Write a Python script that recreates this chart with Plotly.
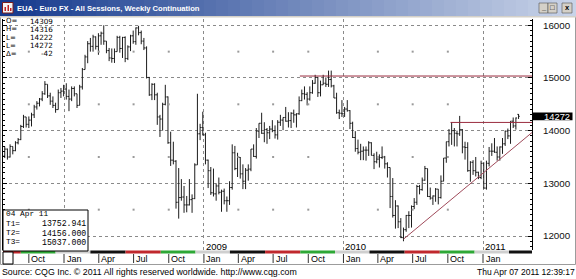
import plotly.graph_objects as go
import pandas as pd

# ---------------- data (weekly bars) ----------------
FIRST_WEEK = "2007-07-30"
N_WEEKS = 193

opens = [13520, 13650, 13500, 13700, 13620, 13770, 13830, 14080, 14260, 14120,
         14200, 14300, 14450, 14520, 14600, 14700, 14880, 14660, 14560, 14480,
         14400, 14720, 14750, 14790, 14650, 14600, 14800, 14700, 14480, 14830,
         15160, 15400, 15650, 15600, 15780, 15600, 15800, 15850, 15700, 15520,
         15380, 15370, 15500, 15770, 15560, 15770, 15370, 15590, 15800, 15690,
         15950, 15860, 15700, 15570, 15010, 14680, 14880, 14680, 14260, 14220,
         14500, 14640, 13770, 13440, 13420, 12640, 12730, 12740, 12590, 12590,
         12690, 12710, 13350, 13940, 14060, 13920, 13440, 13240, 12820, 12800,
         12950, 12830, 12850, 12670, 12670, 12920, 13580, 13280, 13490, 13180,
         13040, 13250, 13270, 13650, 13510, 13990, 14140, 13950, 14020, 13960,
         14030, 14000, 13920, 14160, 14200, 14250, 14180, 14190, 14330, 14300,
         14320, 14570, 14700, 14690, 14600, 14720, 14900, 15010, 14720, 14870,
         14900, 14880, 14970, 14850, 14620, 14340, 14330, 14320, 14410, 14380,
         14140, 13870, 13660, 13590, 13610, 13630, 13630, 13770, 13530, 13410,
         13460, 13490, 13500, 13370, 13300, 12750, 12390, 12570, 12270, 11970,
         12120, 12390, 12390, 12560, 12640, 12940, 12880, 13060, 13280, 12750,
         12720, 12760, 12890, 12730, 13040, 13480, 13790, 13940, 14000, 13950,
         13940, 14020, 13690, 13680, 13240, 13400, 13240, 13210, 13110, 13380,
         12910, 13380, 13610, 13610, 13590, 13500, 13690, 13750, 13990, 13900,
         14180, 14090, 14309]
highs = [13700, 13660, 13740, 13700, 13800, 13860, 14110, 14300, 14260, 14270,
         14340, 14490, 14560, 14620, 14750, 14940, 14880, 14720, 14650, 14530,
         14780, 14810, 14870, 14900, 14780, 14840, 14840, 14700, 14870, 15190,
         15440, 15700, 15760, 15820, 15790, 15850, 15880, 16000, 15700, 15570,
         15560, 15560, 15800, 15800, 15780, 15790, 15620, 15820, 15900, 15960,
         15990, 15900, 15760, 15600, 15020, 14900, 14900, 14720, 14300, 14530,
         14870, 14650, 13980, 13790, 13440, 13290, 13080, 12950, 12760, 13080,
         12790, 13380, 14700, 14130, 14360, 13960, 13450, 13310, 13280, 13000,
         13110, 12880, 12900, 12750, 13040, 13740, 13710, 13580, 13500, 13360,
         13290, 13360, 13650, 13740, 14050, 14140, 14340, 14160, 14050, 14090,
         14200, 14100, 14200, 14300, 14250, 14450, 14350, 14350, 14400, 14330,
         14650, 14780, 14840, 14730, 14840, 14960, 15060, 15020, 14950, 15060,
         15010, 15140, 15140, 14870, 14720, 14400, 14580, 14450, 14580, 14390,
         14170, 13990, 13830, 13750, 13700, 13700, 13800, 13780, 13570, 13600,
         13550, 13700, 13520, 13400, 13300, 13100, 12680, 12580, 12340, 12160,
         12400, 12470, 12580, 12720, 12970, 12970, 13110, 13330, 13280, 12920,
         12770, 12910, 12890, 13150, 13480, 13790, 14030, 14160, 14050, 14000,
         14280, 14030, 13790, 13780, 13420, 13440, 13500, 13220, 13430, 13400,
         13430, 13690, 13760, 13860, 13700, 13700, 13860, 14000, 14040, 14180,
         14250, 14250, 14316]
lows = [13480, 13450, 13490, 13550, 13610, 13740, 13820, 14050, 14060, 14050,
        14080, 14240, 14400, 14460, 14560, 14680, 14620, 14490, 14430, 14340,
        14400, 14620, 14650, 14590, 14370, 14560, 14650, 14430, 14480, 14780,
        15160, 15280, 15500, 15500, 15540, 15440, 15630, 15630, 15470, 15320,
        15290, 15285, 15500, 15480, 15380, 15300, 15340, 15510, 15650, 15630,
        15810, 15640, 15530, 14990, 14660, 14580, 14580, 14110, 13880, 14000,
        14480, 13750, 13330, 13360, 12520, 12330, 12670, 12440, 12450, 12580,
        12440, 12700, 13350, 13820, 13910, 13360, 12910, 12780, 12750, 12670,
        12790, 12460, 12600, 12460, 12590, 12880, 13250, 13120, 13090, 12890,
        12890, 13050, 13230, 13500, 13470, 13860, 13940, 13780, 13750, 13840,
        13970, 13850, 13830, 14090, 14010, 14170, 14060, 14050, 14150, 14060,
        14300, 14560, 14590, 14480, 14570, 14700, 14890, 14640, 14650, 14870,
        14830, 14830, 14820, 14620, 14320, 14220, 14260, 14260, 14360, 14030,
        13860, 13600, 13550, 13440, 13440, 13430, 13520, 13530, 13270, 13380,
        13300, 13460, 13280, 13110, 12530, 12350, 12140, 12150, 11960, 11900,
        12080, 12150, 12160, 12510, 12590, 12790, 12860, 13050, 12740, 12690,
        12590, 12650, 12600, 12710, 13040, 13390, 13700, 13730, 13700, 13700,
        13900, 13570, 13450, 13220, 13030, 13160, 13130, 13080, 13080, 12900,
        12880, 13320, 13520, 13580, 13430, 13430, 13560, 13710, 13840, 13750,
        14050, 14020, 14222]
closes = [13650, 13500, 13700, 13620, 13770, 13830, 14080, 14260, 14120, 14200,
          14300, 14450, 14520, 14600, 14700, 14880, 14660, 14560, 14480, 14400,
          14720, 14750, 14790, 14650, 14600, 14800, 14700, 14480, 14830, 15160,
          15400, 15650, 15600, 15780, 15600, 15800, 15850, 15700, 15520, 15380,
          15370, 15500, 15770, 15560, 15770, 15370, 15590, 15800, 15690, 15950,
          15860, 15700, 15570, 15010, 14680, 14880, 14680, 14260, 14220, 14500,
          14640, 13770, 13440, 13420, 12640, 12730, 12740, 12590, 12590, 12690,
          12710, 13350, 13940, 14060, 13920, 13440, 13240, 12820, 12800, 12950,
          12830, 12850, 12670, 12670, 12920, 13580, 13280, 13490, 13180, 13040,
          13250, 13270, 13650, 13510, 13990, 14140, 13950, 14020, 13960, 14030,
          14000, 13920, 14160, 14200, 14250, 14180, 14190, 14330, 14300, 14320,
          14570, 14700, 14690, 14600, 14720, 14900, 15010, 14720, 14870, 14900,
          14880, 14970, 14850, 14620, 14340, 14330, 14320, 14410, 14380, 14140,
          13870, 13660, 13590, 13610, 13630, 13630, 13770, 13530, 13410, 13460,
          13490, 13500, 13370, 13300, 12750, 12390, 12570, 12270, 11970, 12120,
          12390, 12390, 12560, 12640, 12940, 12880, 13060, 13280, 12750, 12720,
          12760, 12890, 12730, 13040, 13480, 13790, 13940, 14000, 13950, 13940,
          14020, 13690, 13680, 13240, 13400, 13240, 13210, 13110, 13380, 12910,
          13380, 13610, 13610, 13590, 13500, 13690, 13750, 13990, 13900, 14180,
          14090, 14240, 14272]

Y_TICKS = [12000, 13000, 14000, 15000, 16000]
Y_TICK_TEXT = ["12000", "13000", "14000", "15000", "16000"]
HALF_LEVELS = [12500, 13500, 14500, 15500]

QUARTER_DATES = ["2007-10-01", "2008-01-01", "2008-04-01", "2008-07-01", "2008-10-01",
                 "2009-01-01", "2009-04-01", "2009-07-01", "2009-10-01",
                 "2010-01-01", "2010-04-01", "2010-07-01", "2010-10-01", "2011-01-01"]
QUARTER_LABELS = ["Oct", "Jan", "Apr", "Jul", "Oct", "Jan", "Apr", "Jul", "Oct",
                  "Jan", "Apr", "Jul", "Oct", "Jan"]
YEAR_DATES = ["2009-01-01", "2010-01-01", "2011-01-01"]
YEAR_LABELS = ["2009", "2010", "2011"]

LAST_O, LAST_H, LAST_L, LAST_C, LAST_CHG = 14309, 14316, 14222, 14272, -42
T1, T2, T3 = 13752.941, 14156.000, 15037.000
T_DATE_TEXT = "04 Apr 11"
T1_DATE = "2011-04-04"
TL_START_DATE, TL_START_VAL = "2010-06-07", 11940
T2_START = "2010-10-08"
T3_START = "2009-09-09"

ROLL_DATES = ["2007-09-10", "2007-12-10", "2008-03-10", "2008-06-10", "2008-09-10",
              "2008-12-10", "2009-03-10", "2009-06-10", "2009-09-10", "2009-12-10",
              "2010-03-10", "2010-06-10", "2010-09-10", "2010-12-10", "2011-03-10"]
CONTRACT_COLORS = ["#c0282d", "#2ea836", "#cfcfcf", "#111111"]  # Sep, Dec, Mar, Jun

TITLE = "EUA - Euro FX - All Sessions, Weekly Continuation"
SOURCE = "Source: CQG Inc. \u00a9 2011 All rights reserved worldwide. http://www.cqg.com"
STAMP = "Thu Apr 07 2011 12:39:17"

# ---------------- geometry ----------------
W, H = 576, 279
PL, PR, PT, PB = 3, 532, 19, 250
ANCHOR_DATE, ANCHOR_PX, PX_PER_DAY = pd.Timestamp("2011-01-01"), 483.0, 0.3823
Y_REF, Y_REF_PX, PX_PER_UNIT = 16000, 25.3, 0.052675


def px_to_date(px):
    return ANCHOR_DATE + pd.Timedelta(days=(px - ANCHOR_PX) / PX_PER_DAY)


x_left, x_right = px_to_date(PL), px_to_date(PR)
y_top = Y_REF + (Y_REF_PX - PT) / PX_PER_UNIT
y_bot = Y_REF - (PB - Y_REF_PX) / PX_PER_UNIT


def fx(px):
    return (px - PL) / (PR - PL)


def fy(py):
    return (PB - py) / (PB - PT)


dates = pd.date_range(FIRST_WEEK, periods=N_WEEKS, freq="7D")
SANS = "Liberation Sans, Arial, sans-serif"
DSANS = "DejaVu Sans, Verdana, sans-serif"
MONO = "Liberation Mono, DejaVu Sans Mono, monospace"
MAROON = "#9a2c3e"

fig = go.Figure()

# sparse grid dots at quarter x positions and half levels
qdots_x, qdots_y = [], []
for d in QUARTER_DATES:
    if not d.endswith("01-01"):
        for lv in HALF_LEVELS:
            qdots_x.append(d)
            qdots_y.append(lv)
fig.add_trace(go.Scatter(x=qdots_x, y=qdots_y, mode="markers",
                         marker=dict(size=2, color="#9a9a9a", symbol="square"),
                         hoverinfo="skip"))

fig.add_trace(go.Ohlc(x=dates, open=opens, high=highs, low=lows, close=closes,
                      increasing=dict(line=dict(color="#1c1c1c", width=1)),
                      decreasing=dict(line=dict(color="#1c1c1c", width=1)),
                      tickwidth=0.45, hoverinfo="skip"))

# T3 / T2 horizontal lines and T1 trend line
fig.add_trace(go.Scatter(x=[T3_START, x_right], y=[T3, T3], mode="lines",
                         line=dict(color=MAROON, width=1), hoverinfo="skip"))
fig.add_trace(go.Scatter(x=[T2_START, x_right], y=[T2, T2], mode="lines",
                         line=dict(color=MAROON, width=1), hoverinfo="skip"))
t_start, t_end = pd.Timestamp(TL_START_DATE), pd.Timestamp(T1_DATE)
slope = (T1 - TL_START_VAL) / (t_end - t_start).days
tl_end_val = T1 + slope * (x_right - t_end).total_seconds() / 86400
fig.add_trace(go.Scatter(x=[t_start, x_right], y=[TL_START_VAL, tl_end_val], mode="lines",
                         line=dict(color="#a04a5a", width=1), hoverinfo="skip"))

shapes = []
annotations = []


def prect(x0, y0, x1, y1, fill=None, line=None, lw=1, layer="above"):
    shapes.append(dict(type="rect", xref="paper", yref="paper",
                       x0=fx(x0), x1=fx(x1), y0=fy(y1), y1=fy(y0),
                       fillcolor=fill if fill else "rgba(0,0,0,0)",
                       line=dict(color=line if line else "rgba(0,0,0,0)", width=lw if line else 0),
                       layer=layer))


def ptext(text, x, y, size=9, color="black", family=SANS, anchor="left", bold=False):
    if bold:
        text = "<b>" + text + "</b>"
    annotations.append(dict(text=text, x=fx(x), y=fy(y),
                            xref="paper", yref="paper", xanchor=anchor, yanchor="middle",
                            showarrow=False, borderpad=0,
                            font=dict(size=size, color=color, family=family)))


# window frame
prect(0.5, 16.5, 575.5, 264.5, line="#9c9c9c")
# title bar gradient
c0, c1 = (22, 58, 142), (200, 211, 232)
n = 48
for k in range(n):
    t = k / (n - 1)
    col = "rgb(%d,%d,%d)" % tuple(int(c0[j] + (c1[j] - c0[j]) * t) for j in range(3))
    prect(k * W / n, 0, (k + 1) * W / n + 0.6, 16, fill=col)
prect(0, 16, 576, 17.5, fill="#d4d0c8")
# icon
prect(2.5, 2.5, 13, 13, fill="#f4f4f4", line="#7a1c1c")
prect(4.5, 7, 6, 11, fill="#c02020")
prect(7.5, 5, 9, 11, fill="#c02020")
prect(10, 8, 11.5, 11, fill="#c02020")
ptext(TITLE, 16, 8.5, size=7.6, color="white", bold=True)
# window buttons
for (bx0, bx1, glyph) in [(539, 548, "_"), (548, 557, "\u25a1"), (562, 572, "x")]:
    prect(bx0, 3, bx1, 13, fill="#d4d0c8", line="#505050", lw=0.6)
    ptext("<b>" + glyph + "</b>", (bx0 + bx1) / 2, 7.5, size=7.5, anchor="center")

# contract strip under plot
bounds = [x_left] + [pd.Timestamp(d) for d in ROLL_DATES] + [x_right]
for k in range(len(bounds) - 1):
    shapes.append(dict(type="rect", xref="x", yref="paper", x0=bounds[k], x1=bounds[k + 1],
                       y0=fy(253.5), y1=fy(250.5), fillcolor=CONTRACT_COLORS[k % 4],
                       line=dict(width=0), layer="above"))
# small box bottom-left
prect(3, 252, 13, 264, fill="white", line="black")

# quarter ticks and labels
for d, lab in zip(QUARTER_DATES, QUARTER_LABELS):
    shapes.append(dict(type="line", xref="x", yref="paper", x0=d, x1=d,
                       y0=fy(254), y1=fy(263), line=dict(color="#333", width=1)))
    annotations.append(dict(text=lab, x=d, y=fy(258.8), xref="x", yref="paper",
                            xanchor="left", yanchor="middle", xshift=1.5, showarrow=False,
                            borderpad=0, font=dict(size=9, color="black", family=SANS)))
for d, lab in zip(YEAR_DATES, YEAR_LABELS):
    annotations.append(dict(text=lab, x=d, y=fy(246.3), xref="x", yref="paper",
                            xanchor="left", yanchor="middle", xshift=1, showarrow=False,
                            borderpad=0, font=dict(size=9.5, color="black", family=SANS)))

# OHLC readout (top-left)
rows = [("O=", LAST_O), ("H=", LAST_H), ("L=", LAST_L), ("L=", LAST_C), ("\u0394=", LAST_CHG)]
for k, (lab, val) in enumerate(rows):
    yy = 21.3 + k * 8.15
    ptext(lab, 5, yy, size=7, family=DSANS)
    ptext(str(val), 54, yy, size=7.2, family=DSANS, anchor="right")

# T box (bottom-left)
prect(3, 210, 88, 251, fill="white", line="black")
ptext(T_DATE_TEXT, 5, 214.3, size=7.8, family=MONO)
for k, (lab, val) in enumerate([("T1=", T1), ("T2=", T2), ("T3=", T3)]):
    yy = 223.8 + k * 9.3
    ptext(lab, 5, yy, size=7.8, family=MONO)
    ptext("%.3f" % val, 87, yy, size=8.2, family=MONO, anchor="right")

# last price marker on the right axis
shapes.append(dict(type="rect", xref="paper", yref="y", x0=fx(533), x1=fx(572.5),
                   y0=LAST_C - 74, y1=LAST_C + 74, fillcolor="black", line=dict(width=0)))
annotations.append(dict(text=str(LAST_C), x=fx(543), y=LAST_C, xref="paper", yref="y",
                        xanchor="left", yanchor="middle", showarrow=False, borderpad=0,
                        font=dict(size=9.4, color="white", family=SANS)))

# footer
ptext(SOURCE, 0.5, 271.5, size=8.8)
ptext(STAMP, 575.5, 271.5, size=8.5, anchor="right")

fig.update_layout(
    width=W, height=H,
    margin=dict(l=PL, r=W - PR, t=PT, b=H - PB, pad=0),
    paper_bgcolor="white", plot_bgcolor="white",
    showlegend=False,
    shapes=shapes, annotations=annotations,
    xaxis=dict(type="date", range=[x_left, x_right], rangeslider=dict(visible=False),
               tickmode="linear", tick0="2008-01-01", dtick="M12",
               showgrid=True, gridcolor="#8a8a8a", griddash="dot", gridwidth=1,
               showticklabels=False, ticks="", showline=False, zeroline=False, fixedrange=True),
    yaxis=dict(side="right", range=[y_bot, y_top], tickmode="array",
               tickvals=Y_TICKS, ticktext=Y_TICK_TEXT,
               showgrid=True, gridcolor="#8a8a8a", griddash="dot", gridwidth=1,
               ticks="inside", ticklen=4, tickcolor="black", tickwidth=1,
               showline=True, linecolor="black", linewidth=1, mirror="ticks",
               minor=dict(dtick=100, tick0=0, ticks="inside", ticklen=2,
                          tickcolor="black", showgrid=False),
               tickfont=dict(size=9.8, color="#111", family=SANS),
               ticklabelstandoff=8, zeroline=False, fixedrange=True),
)

fig.write_html("out.html")
